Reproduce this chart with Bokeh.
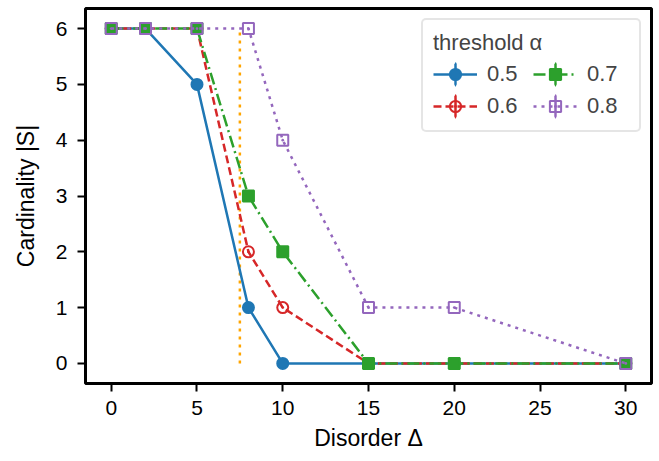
import math
from bokeh.plotting import figure
from bokeh.models import Legend, LegendItem, Range1d, FixedTicker
from bokeh.embed import file_html
from bokeh.resources import INLINE

# ---- data ----
disorder = [0, 2, 5, 8, 10, 15, 20, 30]
card_a05 = [6, 6, 5, 1, 0, 0, 0, 0]
card_a06 = [6, 6, 6, 2, 1, 0, 0, 0]
card_a07 = [6, 6, 6, 3, 2, 0, 0, 0]
card_a08 = [6, 6, 6, 6, 4, 1, 1, 0]
threshold_labels = ["0.5", "0.6", "0.7", "0.8"]
critical_disorder = 7.5
critical_span = [0, 6]
x_tick_values = [0, 5, 10, 15, 20, 25, 30]
y_tick_values = [0, 1, 2, 3, 4, 5, 6]

FONT = "Liberation Sans"
FS_TICK = "21px"
FS_LABEL = "23px"

p = figure(width=659, height=461, output_backend="svg", toolbar_location=None,
           x_range=Range1d(-1.5, 31.5), y_range=Range1d(-0.36, 6.36),
           min_border_left=85, min_border_right=8, min_border_top=8,
           min_border_bottom=78, title=None)

p.xgrid.visible = False
p.ygrid.visible = False
p.outline_line_color = "black"
p.outline_line_width = 3
p.outline_line_alpha = 1.0

for ax in (p.xaxis[0], p.yaxis[0]):
    ax.axis_line_color = None
    ax.major_tick_out = 8
    ax.major_tick_in = 0
    ax.major_tick_line_width = 2
    ax.major_tick_line_color = "black"
    ax.minor_tick_line_color = None
    ax.major_label_text_font = FONT
    ax.major_label_text_font_size = FS_TICK
    ax.major_label_text_color = "black"
    ax.axis_label_text_font = FONT
    ax.axis_label_text_font_size = FS_LABEL
    ax.axis_label_text_font_style = "normal"
    ax.axis_label_text_color = "black"

p.xaxis.ticker = FixedTicker(ticks=x_tick_values)
p.yaxis.ticker = FixedTicker(ticks=y_tick_values)
p.xaxis.axis_label = "Disorder Δ"
p.yaxis.axis_label = "Cardinality |S|"
p.xaxis.major_label_standoff = 9
p.yaxis.major_label_standoff = 10
p.yaxis.axis_label_standoff = 14
p.xaxis.axis_label_standoff = 7

# orange critical-disorder marker line
p.segment(x0=[critical_disorder], y0=[critical_span[0]],
          x1=[critical_disorder], y1=[critical_span[1]],
          line_color="#ffa500", line_width=2.5, line_dash="3 5")

series = [
    (card_a05, "#1f77b4", "solid", "circle", "#1f77b4"),
    (card_a06, "#d62728", "8 4", "circle_dot", None),
    (card_a07, "#2ca02c", "12 4 2 4", "square", "#2ca02c"),
    (card_a08, "#9467bd", "3 5", "square_dot", None),
]

items = []
for (vals, color, dash, marker, fill), lab in zip(series, threshold_labels):
    ln = p.line(disorder, vals, line_color=color, line_width=2.5, line_dash=dash)
    # legend-only vertical error-bar stroke
    eb = p.ellipse(x=[math.nan], y=[math.nan], width=0.1, height=30,
                   width_units="screen", height_units="screen",
                   line_color=color, fill_color=color, line_width=2.5)
    mk = p.scatter(disorder, vals, marker=marker, size=11, line_color=color,
                   fill_color=fill, line_width=2)
    items.append(LegendItem(label=lab, renderers=[ln, eb, mk]))

legend = Legend(items=items, ncols=2, location="top_right", title="threshold α",
                title_text_font=FONT, title_text_font_size="22px",
                title_text_font_style="normal",
                label_text_font=FONT, label_text_font_size="22px",
                glyph_width=44, glyph_height=28, label_standoff=10,
                label_width=42, spacing=4, padding=10, margin=10,
                title_standoff=4, border_line_color="#cccccc",
                border_line_width=2, background_fill_alpha=0.8)
if "border_radius" in Legend.properties():
    legend.border_radius = 5
p.add_layout(legend)

open("out.html", "w").write(file_html(p, INLINE))
